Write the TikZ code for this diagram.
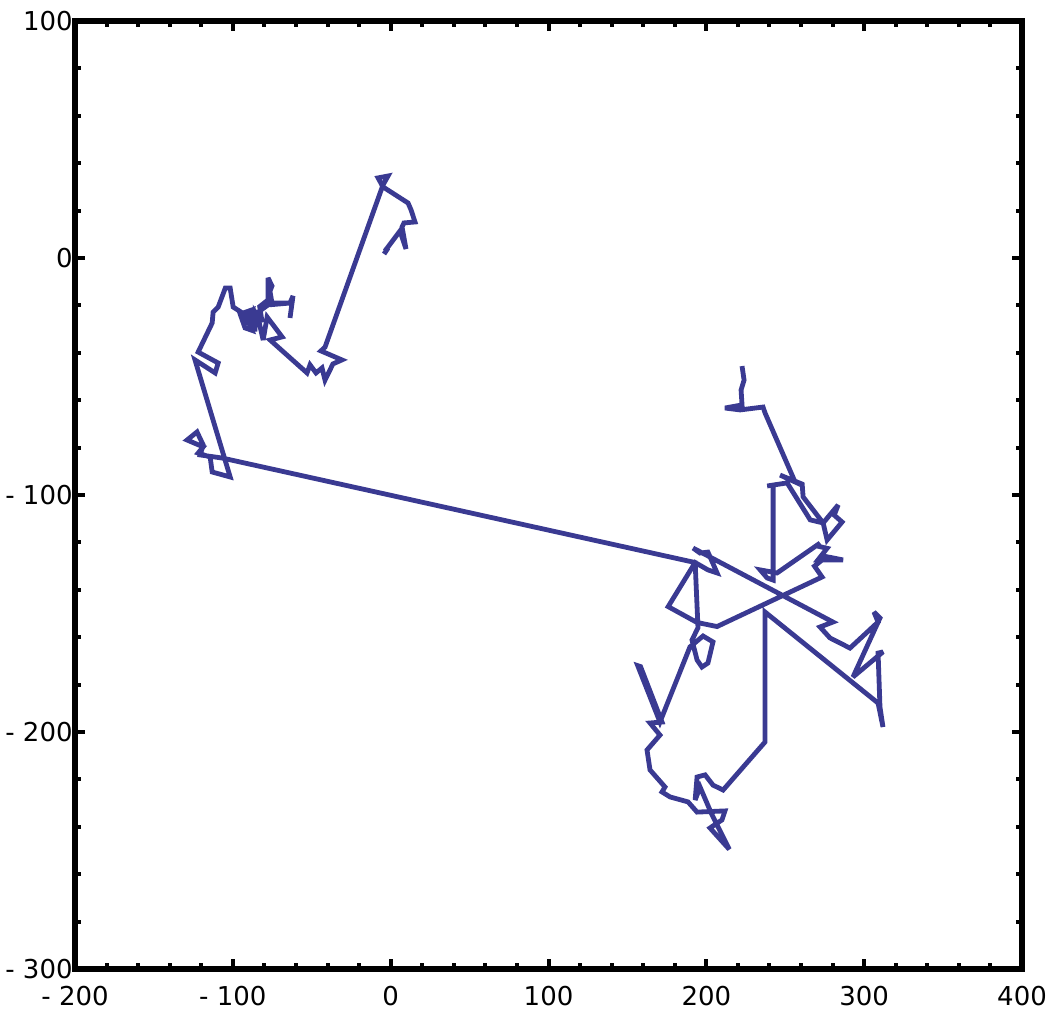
\documentclass[tikz,border=0pt]{standalone}
\usepackage{fontspec}
\setmainfont{DejaVu Sans}
\definecolor{walkblue}{RGB}{58,58,146}

\begin{document}
\begin{tikzpicture}[x=0.78917pt,y=1.185pt,
    walk/.style={walkblue,line width=2.4pt,miter limit=4},
    tickmark/.style={line width=2pt},
    ticklabel/.style={inner sep=0pt,font=\fontsize{13}{15}\selectfont}]
\useasboundingbox (-247.54,-323.21) rectangle (419.63,108.86);
% minor and major ticks, all four sides
\foreach \x in {-180,-160,...,380} {
  \draw[tickmark] (\x,-300) -- ++(0,3pt);
  \draw[tickmark] (\x,100) -- ++(0,-3pt);
}
\foreach \x in {-100,0,...,300} {
  \draw[tickmark] (\x,-300) -- ++(0,5pt);
  \draw[tickmark] (\x,100) -- ++(0,-5pt);
}
\foreach \y in {-280,-260,...,80} {
  \draw[tickmark] (-200,\y) -- ++(3pt,0);
  \draw[tickmark] (400,\y) -- ++(-3pt,0);
}
\foreach \y in {-200,-100,0} {
  \draw[tickmark] (-200,\y) -- ++(5pt,0);
  \draw[tickmark] (400,\y) -- ++(-5pt,0);
}
\draw[line width=3pt] (-200,-300) rectangle (400,100);
% tick labels
\foreach \x/\t in {-200/- 200,-100/- 100,0/0,100/100,200/200,300/300,400/400}
  \node[ticklabel,anchor=north,yshift=-8.5pt] (xl\x) at (\x,-300) {\t};
\foreach \y/\t in {-300/- 300,-200/- 200,-100/- 100,0/0,100/100}
  \node[ticklabel,anchor=east,xshift=-1pt] (yl\y) at (-200,\y) {\t};
% the walk
\draw[walk] (-4.2,1.7) -- (-1.7,4.2) -- (-3.6,3.0) -- (5.9,11.4) -- (9.7,3.8)
  -- (7.2,13.1) -- (8.4,14.8) -- (15.4,15.2) -- (12.9,20.3) -- (11.0,23.2)
  -- (-4.9,30.0) -- (-8.0,33.8) -- (-1.7,34.6) -- (-4.9,30.8) -- (-41.6,-37.6)
  -- (-44.2,-39.2) -- (-30.9,-43.0) -- (-36.6,-44.7) -- (-41.6,-51.5)
  -- (-43.5,-46.4) -- (-47.3,-48.5) -- (-51.1,-45.1) -- (-53.0,-48.5)
  -- (-76.4,-34.6) -- (-68.8,-33.3) -- (-78.3,-24.9) -- (-80.8,-34.6)
  -- (-84.0,-25.3) -- (-90.3,-27.0) -- (-87.8,-21.9) -- (-95.4,-23.6)
  -- (-92.3,-29.5) -- (-88.0,-30.5) -- (-91.5,-25.0) -- (-84.5,-28.5)
  -- (-89.5,-22.0) -- (-86.0,-31.0) -- (-85.9,-22.8) -- (-81.5,-27.0)
  -- (-83.0,-20.5) -- (-77.7,-17.7)
  -- (-77.7,-8.4) -- (-75.2,-11.8) -- (-76.5,-14.0) -- (-75.2,-19.0) -- (-62.5,-19.0)
  -- (-63.8,-25.3) -- (-61.9,-16.0) -- (-63.8,-19.0) -- (-77.7,-19.8)
  -- (-89.0,-25.3) -- (-99.8,-20.7) -- (-101.7,-12.7) -- (-104.8,-12.7)
  -- (-109.3,-20.7) -- (-112.5,-22.8) -- (-113.1,-27.4) -- (-122.0,-39.7)
  -- (-109.3,-44.3) -- (-111.2,-48.5) -- (-124.0,-43.0) -- (-101.7,-92.4)
  -- (-113.1,-90.3) -- (-114.4,-84.0) -- (-122.0,-82.3) -- (-118.8,-79.7)
  -- (-129.0,-76.8) -- (-122.7,-73.4) -- (-118.8,-78.9) -- (-120.7,-83.1)
  -- (-106.8,-84.4) -- (192.9,-128.5) -- (194.7,-156.0) -- (190.9,-161.2)
  -- (194.1,-169.6) -- (197.2,-172.6) -- (201.0,-170.9) -- (204.2,-162.0)
  -- (197.9,-159.5) -- (189.6,-164.1) -- (170.6,-195.8) -- (156.5,-172.0)
  -- (158.3,-172.4) -- (171.9,-195.8) -- (164.3,-196.2) -- (170.6,-201.3)
  -- (162.4,-207.6) -- (164.3,-216.0) -- (173.8,-223.2) -- (171.9,-225.3)
  -- (177.0,-227.4) -- (188.4,-229.5) -- (194.1,-233.8) -- (211.8,-233.3)
  -- (209.9,-237.1) -- (202.3,-240.5) -- (214.5,-249.5) -- (203.6,-235.0)
  -- (196.0,-223.2) -- (192.9,-228.7) -- (194.1,-219.0) -- (199.2,-218.1)
  -- (204.2,-222.4) -- (210.6,-224.5) -- (237.2,-204.2) -- (237.2,-149.4)
  -- (308.8,-187.8) -- (311.9,-197.9) -- (310.0,-189.5) -- (308.8,-166.7)
  -- (311.9,-166.2) -- (292.9,-176.8) -- (310.0,-151.9) -- (306.2,-149.4)
  -- (308.8,-153.6) -- (291.0,-164.6) -- (278.3,-160.3) -- (272.0,-155.7)
  -- (280.2,-153.6) -- (191.6,-122.4) -- (196.0,-124.5) -- (201.0,-124.1)
  -- (206.8,-132.9) -- (201.0,-131.6) -- (192.9,-128.5) -- (175.8,-147.1)
  -- (194.1,-153.8) -- (206.8,-155.5) -- (273.3,-134.6) -- (268.5,-130.0)
  -- (276.0,-126.0) -- (286.6,-127.4) -- (270.7,-127.4) -- (276.5,-122.5)
  -- (270.0,-121.5) -- (272.0,-120.3) -- (244.8,-132.9) -- (234.1,-131.6)
  -- (238.5,-135.0) -- (242.3,-135.9) -- (242.3,-95.8) -- (238.5,-96.2)
  -- (251.2,-94.9) -- (265.8,-110.5) -- (274.0,-111.8) -- (283.5,-104.2)
  -- (281.0,-108.5) -- (286.0,-111.4) -- (276.5,-119.0) -- (274.0,-111.8)
  -- (261.3,-100.8) -- (260.7,-95.4) -- (246.7,-91.6) -- (256.2,-94.5)
  -- (237.2,-65.4) -- (235.9,-62.9) -- (221.4,-64.1) -- (211.8,-63.3)
  -- (222.6,-62.0) -- (222.0,-55.7) -- (223.9,-51.5) -- (222.6,-45.6);
\end{tikzpicture}
\end{document}
